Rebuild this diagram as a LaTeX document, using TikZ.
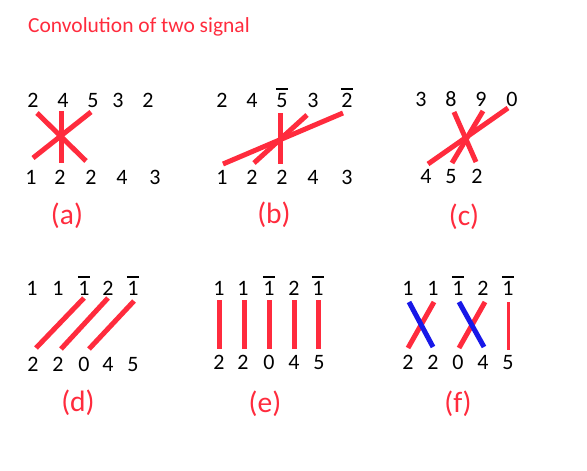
\documentclass[tikz,border=0pt]{standalone}
\usepackage{fontspec}
\setmainfont{Carlito}
\definecolor{cred}{HTML}{FF2B3D}
\definecolor{cblue}{HTML}{1818E8}
\newcommand\ob[1]{\leavevmode\vbox{\hrule height 2pt\kern 3pt\hbox{\kern0.5pt#1\kern0.5pt}}}
\tikzset{
  dig/.style={anchor=base,inner sep=0pt,font=\fontsize{22}{23}\selectfont,text=black},
  lab/.style={anchor=center,inner sep=0pt,font=\fontsize{29.5}{30}\selectfont,text=cred},
  ttl/.style={anchor=base west,inner sep=0pt,font=\fontsize{21.5}{22}\selectfont,text=cred},
  rl/.style={draw=cred,line width=5pt},
  bl/.style={draw=cblue,line width=5pt},
  thinrl/.style={draw=cred,line width=3pt},
}
\begin{document}
\begin{tikzpicture}[x=1pt,y=-1pt]
\useasboundingbox (0,0) rectangle (587,471);
\node[ttl] (title) at (28,32) {Convolution of two signal};
% (a)
\foreach \x/\t [count=\i] in {33/2,63/4,93/5,118/3,148/2} \node[dig] (at\i) at (\x,107) {\t};
\foreach \x/\t [count=\i] in {31/1,60/2,91/2,122/4,155/3} \node[dig] (ab\i) at (\x,184) {\t};
\draw[rl] (61,111) -- (61,163);
\draw[rl] (37,113) -- (86,161);
\draw[rl] (33,158) -- (91,112);
\node[lab] (la) at (67,216) {(a)};
% (b)
\node[dig] (bt1) at (222,107) {2};
\node[dig] (bt2) at (252,107) {4};
\node[dig] (bt3) at (282,107) {\ob{5}};
\node[dig] (bt4) at (313,107) {3};
\node[dig] (bt5) at (347,107) {\ob{2}};
\foreach \x/\t [count=\i] in {222/1,252/2,282/2,313/4,347/3} \node[dig] (bb\i) at (\x,184) {\t};
\draw[rl] (280,113) -- (280,164);
\draw[rl] (254,163) -- (307,115);
\draw[rl] (223,164) -- (343,113);
\node[lab] (lb) at (274,215) {(b)};
% (c)
\foreach \x/\t [count=\i] in {421/3,451/8,481/9,512/0} \node[dig] (ct\i) at (\x,106) {\t};
\foreach \x/\t [count=\i] in {426/4,451/5,477/2} \node[dig] (cb\i) at (\x,183) {\t};
\draw[rl] (454,112) -- (476,162);
\draw[rl] (452,163) -- (483,111);
\draw[rl] (428,164) -- (508,108);
\node[lab] (lc) at (464,217) {(c)};
% (d)
\node[dig] (dt1) at (32,295) {1};
\node[dig] (dt2) at (58,295) {1};
\node[dig] (dt3) at (84,295) {\ob{1}};
\node[dig] (dt4) at (108,295) {2};
\node[dig] (dt5) at (133,295) {\ob{1}};
\foreach \x/\t [count=\i] in {33/2,58/2,84/0,108/4,133/5} \node[dig] (db\i) at (\x,371) {\t};
\draw[rl] (36,348) -- (84,298);
\draw[rl] (61,349) -- (108,298);
\draw[rl] (89,349) -- (134,301);
\node[lab] (ld) at (78,403) {(d)};
% (e)
\node[dig] (et1) at (219,295) {1};
\node[dig] (et2) at (243,295) {1};
\node[dig] (et3) at (269,295) {\ob{1}};
\node[dig] (et4) at (294,295) {2};
\node[dig] (et5) at (318,295) {\ob{1}};
\foreach \x/\t [count=\i] in {219/2,243/2,269/0,294/4,319/5} \node[dig] (eb\i) at (\x,369) {\t};
\foreach \x in {219,244,269,294,318} \draw[rl] (\x,300) -- (\x,349);
\node[lab] (le) at (265,404) {(e)};
% (f)
\node[dig] (ft1) at (408,295) {1};
\node[dig] (ft2) at (433,295) {1};
\node[dig] (ft3) at (458,295) {\ob{1}};
\node[dig] (ft4) at (483,295) {2};
\node[dig] (ft5) at (508,295) {\ob{1}};
\foreach \x/\t [count=\i] in {408/2,433/2,458/0,483/4,508/5} \node[dig] (fb\i) at (\x,369) {\t};
\draw[rl] (408,348) -- (434,302);
\draw[rl] (459,348) -- (485,302);
\draw[bl] (409,302) -- (433,347);
\draw[bl] (459,302) -- (484,347);
\draw[thinrl] (508,302) -- (508,350);
\node[lab] (lf) at (458,404) {(f)};
\end{tikzpicture}
\end{document}
